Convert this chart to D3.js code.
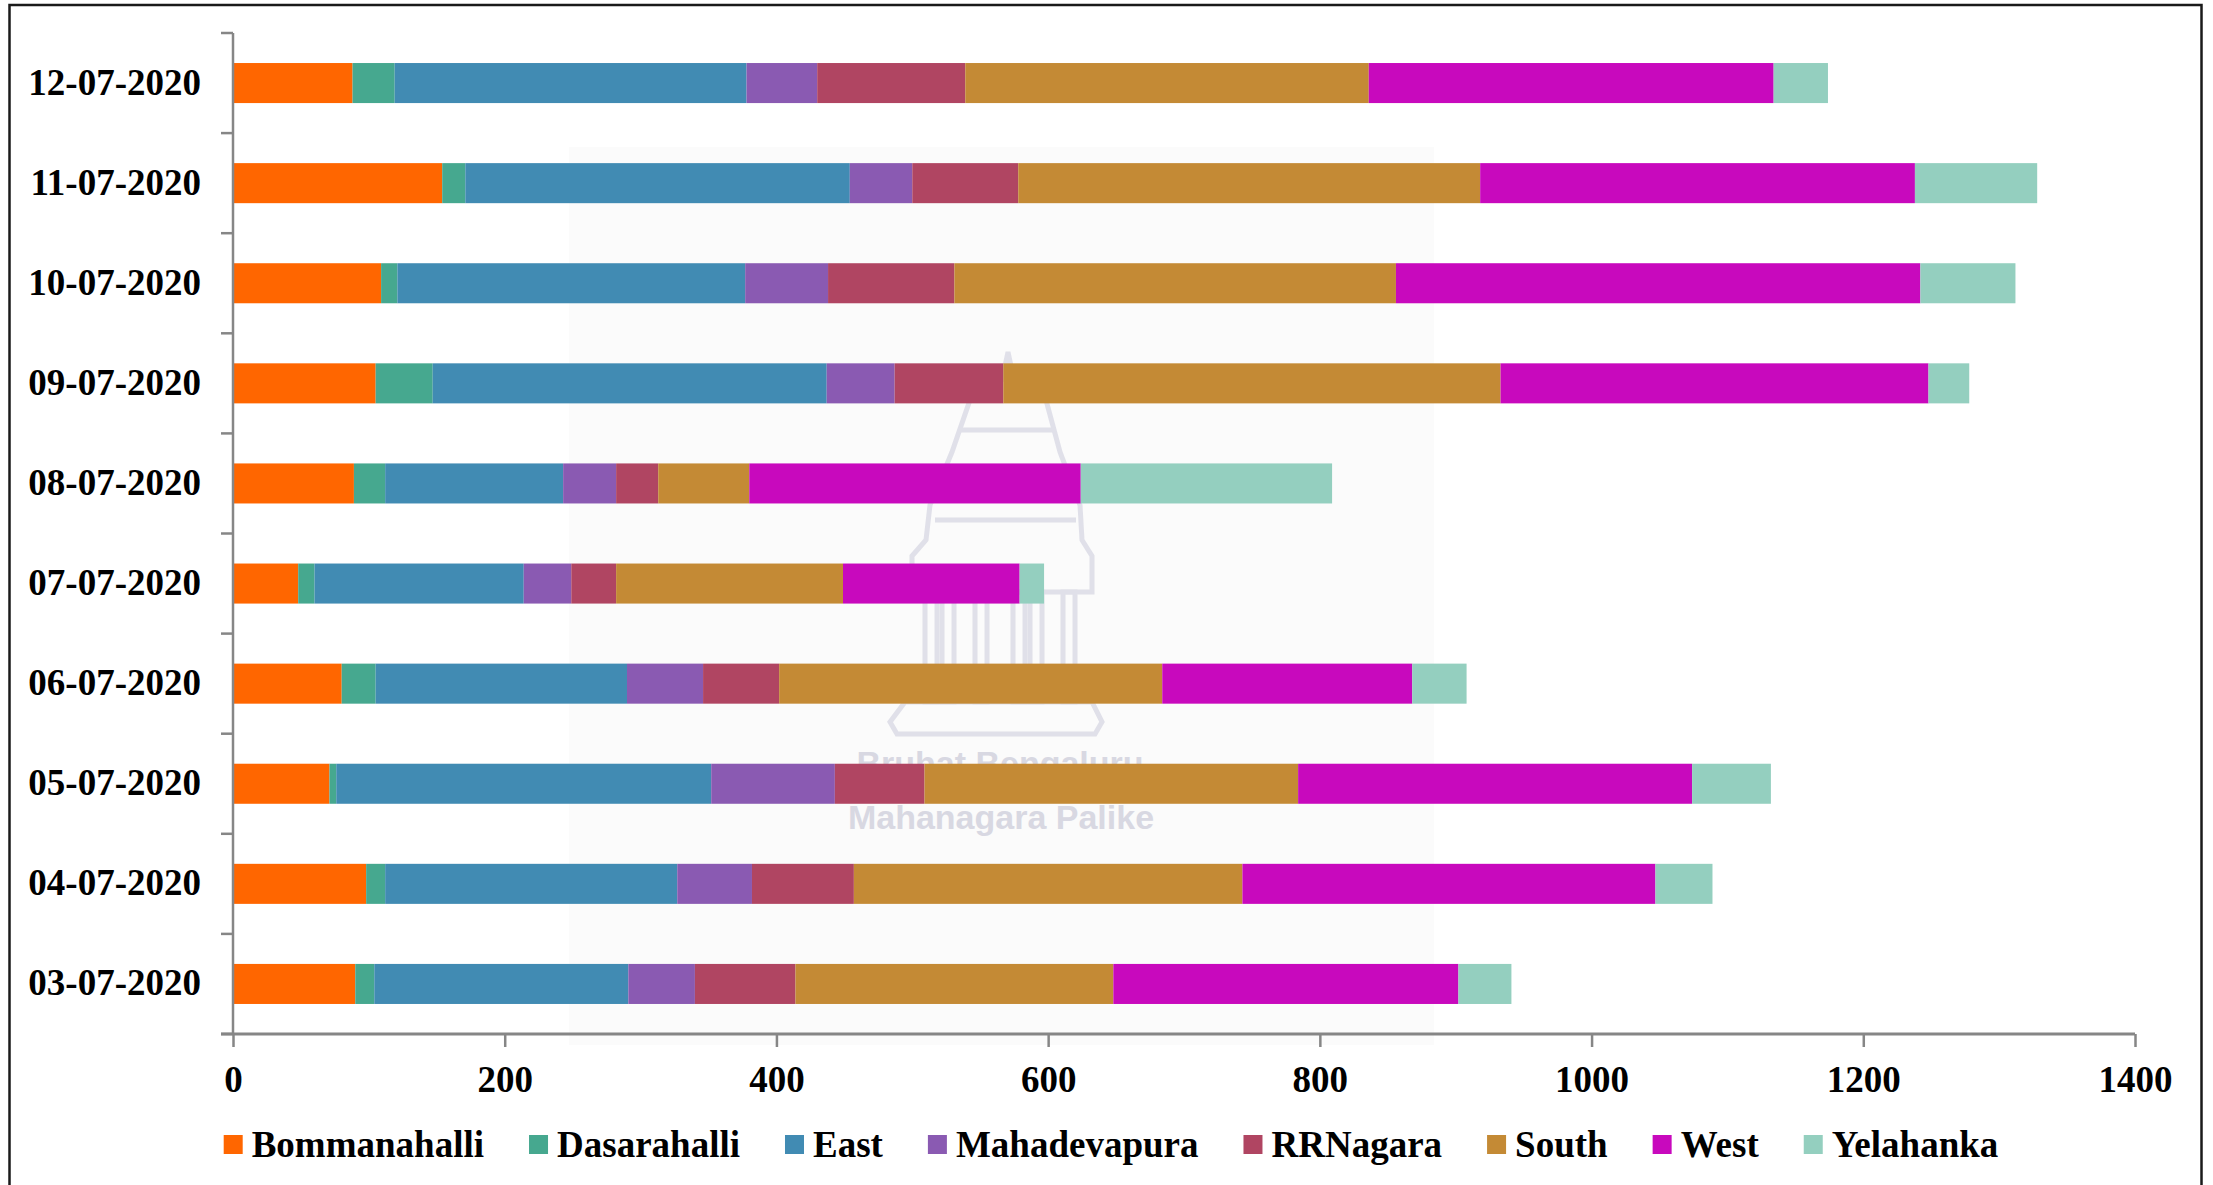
<!DOCTYPE html>
<html>
<head>
<meta charset="utf-8">
<script src="https://cdn.jsdelivr.net/npm/d3@7"></script>
<style>
  html, body { margin: 0; padding: 0; background: #ffffff; }
  svg { display: block; }
  .lbl { font-family: "Liberation Serif", "Times New Roman", serif; font-weight: bold; font-size: 37px; fill: #000; }
</style>
</head>
<body>
<svg id="chart" width="2213" height="1185"></svg>
<script>
// ---- data ----
const dates = ["12-07-2020", "11-07-2020", "10-07-2020", "09-07-2020", "08-07-2020",
               "07-07-2020", "06-07-2020", "05-07-2020", "04-07-2020", "03-07-2020"];
const zones = ["Bommanahalli", "Dasarahalli", "East", "Mahadevapura", "RRNagara", "South", "West", "Yelahanka"];
const bommanahalli = [88, 154, 109, 105, 89, 48, 80, 71, 98, 90];
const dasarahalli  = [31, 17, 12, 42, 23, 12, 25, 5, 14, 14];
const east         = [259, 283, 256, 290, 131, 154, 185, 276, 215, 187];
const mahadevapura = [52, 46, 61, 50, 39, 35, 56, 91, 55, 49];
const rrnagara     = [109, 78, 93, 80, 31, 33, 56, 66, 75, 74];
const south        = [297, 340, 325, 366, 67, 167, 282, 275, 286, 234];
const west         = [298, 320, 386, 315, 244, 130, 184, 290, 304, 254];
const yelahanka    = [40, 90, 70, 30, 185, 18, 40, 58, 42, 39];
const xTicks = [0, 200, 400, 600, 800, 1000, 1200, 1400];
const colors = ["#ff6600", "#46a88f", "#418bb3", "#8a5ab2", "#b04562", "#c48a35", "#c809bd", "#94cfbf"];

const seriesValues = [bommanahalli, dasarahalli, east, mahadevapura, rrnagara, south, west, yelahanka];
const table = dates.map((d, i) => {
  const row = { date: d };
  zones.forEach((z, k) => row[z] = seriesValues[k][i]);
  return row;
});

const svg = d3.select("#chart");

// outer frame
svg.append("rect").attr("x", 9.5).attr("y", 5).attr("width", 2192).attr("height", 1200)
  .attr("fill", "#ffffff").attr("stroke", "#1a1a1a").attr("stroke-width", 2.5);

// faint watermark background
const wm = svg.append("g");
wm.append("rect").attr("x", 569).attr("y", 147).attr("width", 865).attr("height", 898).attr("fill", "#fbfbfb");
const wc = "#dedee8";
const tg = wm.append("g").attr("fill", "none").attr("stroke", wc).attr("stroke-width", 5).attr("opacity", 0.9);
// temple outline (decorative)
tg.append("path")
  .attr("d", "M1008,352 L1014,380 L1046,400 L1060,452 L1080,505 L1082,540 L1092,556 L1092,592 L912,592 L912,556 L926,540 L930,505 L952,452 L970,400 L1002,380 Z");
tg.append("path").attr("d", "M960,430 L1056,430 M950,470 L1066,470 M935,520 L1076,520");
[931, 948, 981, 1019, 1036, 1069].forEach(cx => {
  tg.append("rect").attr("x", cx - 6).attr("y", 592).attr("width", 12).attr("height", 110);
});
tg.append("path").attr("d", "M905,702 L1092,702 L1102,722 L1095,734 L897,734 L890,722 Z");
wm.append("text").attr("x", 1000).attr("y", 775).attr("text-anchor", "middle")
  .style("font-family", "Liberation Sans, Arial, sans-serif").style("font-weight", "bold")
  .style("font-size", "34px").attr("fill", "#d8d8e2").text("Bruhat Bengaluru");
wm.append("text").attr("x", 1001).attr("y", 829).attr("text-anchor", "middle")
  .style("font-family", "Liberation Sans, Arial, sans-serif").style("font-weight", "bold")
  .style("font-size", "34px").attr("fill", "#d8d8e2").text("Mahanagara Palike");

// scales
const x = d3.scaleLinear().domain([0, 1400]).range([233, 2135]);
const y = d3.scaleBand().domain(dates).range([33, 1034]).paddingInner(0.6).paddingOuter(0.3);

// stacked bars
const stack = d3.stack().keys(zones)(table);
const color = d3.scaleOrdinal().domain(zones).range(colors);
svg.append("g").selectAll("g").data(stack).join("g")
  .attr("fill", s => color(s.key))
  .selectAll("rect").data(s => s).join("rect")
  .attr("x", d => x(d[0]))
  .attr("y", d => y(d.data.date))
  .attr("width", d => x(d[1]) - x(d[0]))
  .attr("height", y.bandwidth());

const axisColor = "#868686";

// y axis
const yAxis = svg.append("g").attr("transform", "translate(233,0)")
  .call(d3.axisLeft(y).tickSize(0).tickPadding(32));
yAxis.select(".domain").remove();
yAxis.selectAll("text").attr("class", "lbl").attr("dy", "0.31em");
svg.append("line").attr("x1", 233).attr("x2", 233).attr("y1", 33).attr("y2", 1034)
  .attr("stroke", axisColor).attr("stroke-width", 2.5);
const step = y.step();
d3.range(dates.length + 1).forEach(i => {
  const yy = y(dates[0]) - step * y.paddingOuter() + i * step;
  svg.append("line").attr("x1", 221).attr("x2", 233).attr("y1", yy).attr("y2", yy)
    .attr("stroke", axisColor).attr("stroke-width", 2.5);
});

// x axis
const xAxis = svg.append("g").attr("transform", "translate(0,1034)")
  .call(d3.axisBottom(x).tickValues(xTicks).tickSize(13).tickFormat(d3.format("d")));
xAxis.select(".domain").remove();
xAxis.selectAll(".tick line").attr("stroke", axisColor).attr("stroke-width", 2.5);
xAxis.selectAll("text").attr("class", "lbl").attr("y", 58).attr("dy", 0);
svg.append("line").attr("x1", 221).attr("x2", 2135).attr("y1", 1034).attr("y2", 1034)
  .attr("stroke", axisColor).attr("stroke-width", 3);

// legend
const leg = svg.append("g");
const items = leg.selectAll("g").data(zones).join("g");
items.append("rect").attr("width", 19).attr("height", 19).attr("y", 1135).attr("fill", d => color(d));
items.append("text").attr("class", "lbl").attr("x", 28).attr("y", 1157).text(d => d);
let pos = 0;
const offsets = [];
items.each(function () {
  const w = d3.select(this).select("text").node().getComputedTextLength();
  offsets.push(pos);
  pos += 28 + w + 45;
});
const total = pos - 45;
const start = 1111 - total / 2;
items.attr("transform", (d, i) => `translate(${start + offsets[i]},0)`);
</script>
</body>
</html>
